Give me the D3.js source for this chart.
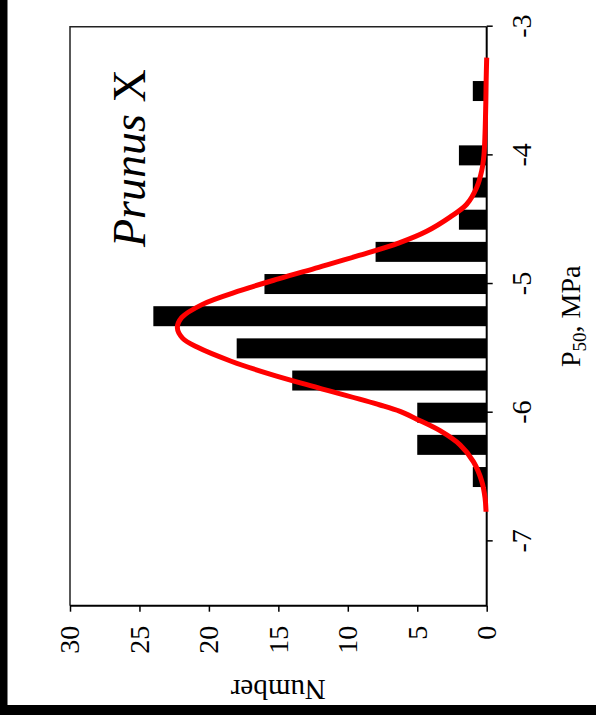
<!DOCTYPE html>
<html><head><meta charset="utf-8">
<script src="https://cdn.jsdelivr.net/npm/d3@7"></script>
<style>html,body{margin:0;padding:0;background:#fff}svg{display:block}</style>
</head><body>
<svg id="chart" width="596" height="715"></svg>
<script>
// Histogram bins (P50, MPa) and counts
const binCenters = [-6.5, -6.25, -6.0, -5.75, -5.5, -5.25, -5.0, -4.75, -4.5, -4.25, -4.0, -3.75, -3.5];
const counts     = [1, 5, 5, 14, 18, 24, 16, 8, 2, 1, 2, 0, 1];
// Fitted curve, points
const fitP = [-6.77, -6.66, -6.53, -6.38, -6.25, -6.14, -6.05, -5.99, -5.94, -5.79, -5.70, -5.60, -5.49, -5.42, -5.34, -5.26, -5.16, -5.05, -4.96, -4.87, -4.78, -4.68, -4.59, -4.48, -4.38, -4.25, -4.12, -4.00, -3.83, -3.57, -3.42, -3.24];
const fitN = [0.05, 0.12, 0.36, 0.96, 1.92, 3.36, 5.04, 6.24, 7.68, 12.7, 15.6, 18.4, 20.85, 21.9, 22.27, 21.95, 20.5, 17.7, 15.0, 12.1, 9.25, 6.3, 4.32, 2.64, 1.44, 0.72, 0.36, 0.2, 0.12, 0.06, 0.04, 0.0];
const xTicks = [-7, -6, -5, -4, -3];
const yTicks = [0, 5, 10, 15, 20, 25, 30];
const xDomain = [-7.5, -3];
const yDomain = [0, 30];
const title = "Prunus";
const titleSuffix = " X";

const W = 596, H = 715;
const svg = d3.select("#chart");
svg.append("rect").attr("width", W).attr("height", H).attr("fill", "#000");
svg.append("rect").attr("x", 7.5).attr("y", 0).attr("width", W - 7.5).attr("height", 705).attr("fill", "#fff");

// Chart drawn in its own frame, rotated -90deg on screen
const g = svg.append("g").attr("transform", `translate(0,${H}) rotate(-90)`);
const x = d3.scaleLinear().domain(xDomain).range([109.3, 688.3]);
const y = d3.scaleLinear().domain(yDomain).range([486.7, 70]);
const font = "'Liberation Serif','Times New Roman',Times,serif";

// bars
const barW = 20;
g.append("g").selectAll("rect").data(binCenters.map((p, i) => ({p, n: counts[i]})).filter(d => d.n > 0))
  .join("rect")
  .attr("x", d => x(d.p) - barW / 2)
  .attr("width", barW)
  .attr("y", d => y(d.n))
  .attr("height", d => y(0) - y(d.n))
  .attr("fill", "#000");

// frame (top and right)
g.append("path")
  .attr("d", `M${x(xDomain[0])},${y(yDomain[1])}H${x(xDomain[1])}V${y(0)}`)
  .attr("fill", "none").attr("stroke", "#222").attr("stroke-width", 1.5);

// axes
const gx = g.append("g").attr("transform", `translate(0,${y(0)})`)
  .call(d3.axisBottom(x).tickValues(xTicks).tickSize(6).tickPadding(18).tickFormat(d => String(d)));
const gy = g.append("g").attr("transform", `translate(${x(xDomain[0])},0)`)
  .call(d3.axisLeft(y).tickValues(yTicks).tickSize(6).tickPadding(14).tickFormat(d => String(d)));
[gx, gy].forEach(a => {
  a.attr("font-family", null);
  a.select(".domain").remove();
  a.selectAll("line").attr("stroke", "#000").attr("stroke-width", 1.5);
  a.selectAll("text").attr("font-family", font).attr("font-size", 28).attr("fill", "#000");
});
g.append("path")
  .attr("d", `M${x(xDomain[0])},${y(yDomain[1])}V${y(0)}H${x(xDomain[1])}`)
  .attr("fill", "none").attr("stroke", "#000").attr("stroke-width", 2);

// fitted curve
const line = d3.line().x(d => x(d[0])).y(d => y(d[1])).curve(d3.curveCatmullRom.alpha(0.5));
g.append("path").datum(fitP.map((p, i) => [p, fitN[i]]))
  .attr("d", line).attr("fill", "none").attr("stroke", "#ff0000")
  .attr("stroke-width", 5).attr("stroke-linejoin", "round").attr("stroke-linecap", "butt");

// x axis label
const xl = g.append("text").attr("x", (x(xDomain[0]) + x(xDomain[1])) / 2).attr("y", 580)
  .attr("text-anchor", "middle").attr("font-family", font).attr("font-size", 28).attr("fill", "#000");
xl.append("tspan").text("P");
xl.append("tspan").attr("font-size", 19).attr("dy", 6).text("50");
xl.append("tspan").attr("dy", -6).text(", MPa");

// y axis label
g.append("text").attr("transform", `translate(35,${(y(0) + y(30)) / 2}) rotate(-90)`)
  .attr("text-anchor", "middle").attr("font-family", font).attr("font-size", 29).attr("fill", "#000")
  .text("Number");

// title
const t = g.append("text").attr("x", 468).attr("y", 144.5)
  .attr("font-family", font).attr("font-size", 46).attr("fill", "#000");
t.append("tspan").attr("font-style", "italic").text(title);
t.append("tspan").text(titleSuffix);
</script>
</body></html>
